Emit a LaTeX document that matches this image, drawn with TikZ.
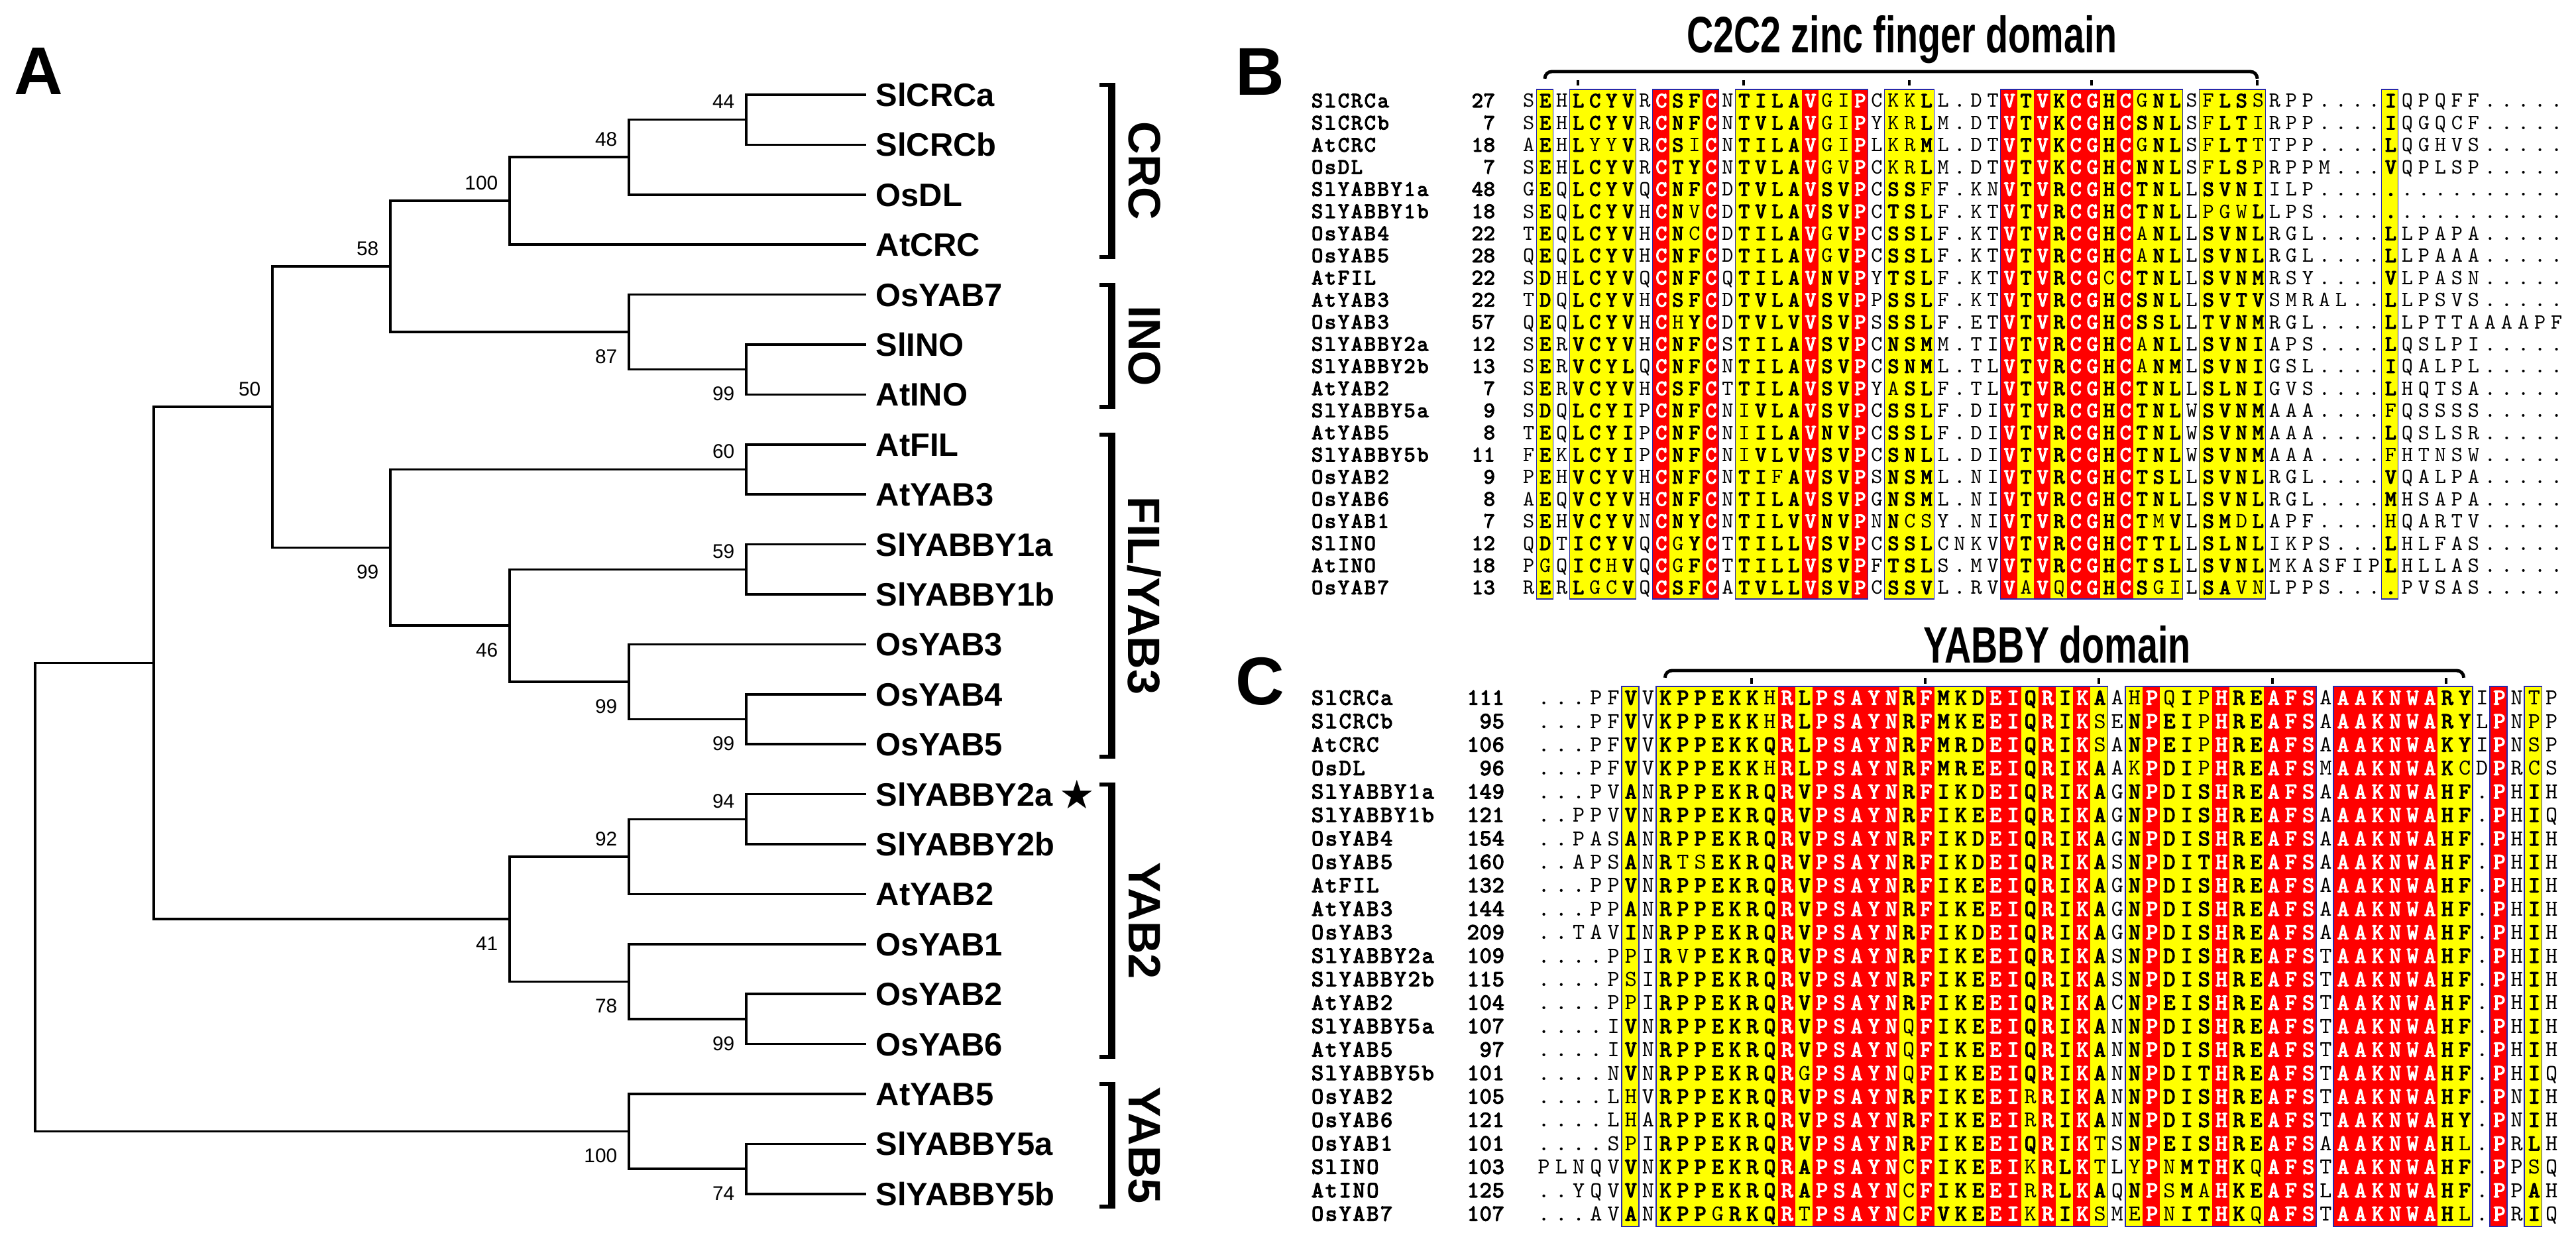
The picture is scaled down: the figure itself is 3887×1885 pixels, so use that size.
\documentclass[tikz,border=0pt]{standalone}
\usepackage{fontspec}
\usepackage{graphicx}
\newfontfamily\arialf{Liberation Sans}
\newfontfamily\dejavuf{DejaVu Sans}
\newfontfamily\seqf{lmmono10-regular.otf}[BoldFont={lmmono10-regular.otf},BoldFeatures={FakeBold=3.5}]
\definecolor{espred}{RGB}{255,0,0}
\definecolor{espyel}{RGB}{255,255,0}
\definecolor{espblue}{RGB}{40,40,170}
\makeatletter
\newcount\sqcol
\newdimen\sqpitch
\newdimen\fxpitch
\def\sqred{}\def\sqyel{}
\def\sqrow#1{\sqcol=0 \sq@loop#1\relax}
\def\sq@loop#1{\ifx#1\relax\else\advance\sqcol by 1 \sq@cell#1\expandafter\sq@loop\fi}
\def\sq@cell#1{%
  \edef\sq@tmp{\noexpand\in@{,\the\sqcol,}{\sqred}}\sq@tmp
  \ifin@
    \hbox to\sqpitch{\hss\textcolor{white}{\bfseries\uppercase{#1}}\hss}%
  \else
    \edef\sq@tmp{\noexpand\in@{,\the\sqcol,}{\sqyel}}\sq@tmp
    \ifin@
      \ifnum`#1>96 \hbox to\sqpitch{\hss\mdseries\uppercase{#1}\hss}%
      \else \hbox to\sqpitch{\hss\bfseries #1\hss}\fi
    \else
      \hbox to\sqpitch{\hss\mdseries\uppercase{#1}\hss}%
    \fi
  \fi}
\def\fixrow#1{\fx@loop#1\relax}
\def\fx@loop#1{\ifx#1\relax\else\hbox to\fxpitch{\hss#1\hss}\expandafter\fx@loop\fi}
\makeatother
\def\Bset{\def\sqred{,9,12,18,21,30,32,34,35,37,}\def\sqyel{,2,4,5,6,7,10,11,14,15,16,17,19,20,23,24,25,31,33,36,38,39,40,42,43,44,45,53,}\sqpitch=0.25cm\relax}
\def\Cset{\def\sqred{,15,17,18,19,20,21,23,27,28,30,32,36,40,43,44,45,47,48,49,50,51,52,56,}\def\sqyel{,6,8,9,10,11,12,13,14,16,22,24,25,26,29,31,33,35,37,38,39,41,42,53,54,58,}\sqpitch=0.262cm\relax}
\tikzset{
  br/.style={line width=1pt, line join=miter, line cap=rect},
  leaf/.style={font={\arialf\bfseries\fontsize{13.9}{14}\selectfont}, inner sep=0, anchor=base west},
  bs/.style={font={\arialf\fontsize{8.5}{9}\selectfont}, inner sep=0, anchor=east},
  grp/.style={font={\arialf\bfseries\fontsize{19.5}{19.5}\selectfont}, inner sep=0, rotate=-90},
  panel/.style={font={\arialf\bfseries\fontsize{29}{29}\selectfont}, inner sep=0},
  ttl/.style={font={\arialf\bfseries\fontsize{22}{22}\selectfont}, inner sep=0},
  nameB/.style={font={\seqf\bfseries\fontsize{9.4}{9.4}\selectfont}, inner sep=0, anchor=base west},
  numB/.style={font={\seqf\bfseries\fontsize{9.4}{9.4}\selectfont}, inner sep=0, anchor=base east},
  seqB/.style={font={\seqf\fontsize{9.3}{9.3}\selectfont}, inner sep=0, anchor=base west},
  nameC/.style={font={\seqf\bfseries\fontsize{9.9}{9.9}\selectfont}, inner sep=0, anchor=base west},
  numC/.style={font={\seqf\bfseries\fontsize{9.9}{9.9}\selectfont}, inner sep=0, anchor=base east},
  seqC/.style={font={\seqf\fontsize{9.8}{9.8}\selectfont}, inner sep=0, anchor=base west},
  boxline/.style={draw=espblue, line width=0.5pt},
  brk/.style={line width=1.4pt, rounded corners=3}
}
\newcommand\Brow[4]{%
  \pgfmathsetmacro\ry{152+33.4*#1}
  \node[nameB] (Bn#1) at (1977,\ry+10) {\fxpitch=0.199cm\fixrow{#2}};
  \node[numB] (Bk#1) at (2257,\ry+10) {\fxpitch=0.18cm\fixrow{#3}};
  \node[seqB] (Bs#1) at (2293.5,\ry+10) {\Bset\sqrow{#4}};
}
\newcommand\Crow[4]{%
  \pgfmathsetmacro\ry{1053+35.4*#1}
  \node[nameC] (Cn#1) at (1977,\ry+10.6) {\fxpitch=0.208cm\fixrow{#2}};
  \node[numC] (Ck#1) at (2271,\ry+10.6) {\fxpitch=0.19cm\fixrow{#3}};
  \node[seqC] (Cs#1) at (2315.9,\ry+10.6) {\Cset\sqrow{#4}};
}
\begin{document}
\begin{tikzpicture}[x=0.01cm,y=-0.01cm]
\useasboundingbox (0,0) rectangle (3887,1885);
\fill[white] (0,0) rectangle (3887,1885);

% ---------------- Panel A : tree ----------------
\node[panel] (labA) at (58,107) {A};
\foreach \i/\nm in {0/SlCRCa,1/SlCRCb,2/OsDL,3/AtCRC,4/OsYAB7,5/SlINO,6/AtINO,7/AtFIL,8/AtYAB3,9/SlYABBY1a,10/SlYABBY1b,11/OsYAB3,12/OsYAB4,13/OsYAB5,14/SlYABBY2a,15/SlYABBY2b,16/AtYAB2,17/OsYAB1,18/OsYAB2,19/OsYAB6,20/AtYAB5,21/SlYABBY5a,22/SlYABBY5b}{
  \pgfmathsetmacro\yy{143+75.4*\i}
  \coordinate (l\i) at (1305,\yy);
  \node[leaf] (t\i) at (1321,\yy+17.5) {\nm};
}
\node[font={\dejavuf\fontsize{17}{17}\selectfont}, inner sep=0, anchor=west] (star) at (1598,1199) {★};

\coordinate (n1) at (1126,180.7);
\coordinate (n2) at (949,237.25);
\coordinate (n3) at (769,303.2);
\coordinate (n4) at (1126,557.7);
\coordinate (n5) at (949,501.15);
\coordinate (n6) at (589,402.2);
\coordinate (n7) at (1126,708.5);
\coordinate (n8) at (1126,859.3);
\coordinate (n9) at (1126,1085.5);
\coordinate (n10) at (949,1028.95);
\coordinate (n11) at (769,944.1);
\coordinate (n12) at (589,826.3);
\coordinate (n13) at (411,614.25);
\coordinate (n14) at (1126,1236.3);
\coordinate (n15) at (949,1292.85);
\coordinate (n16) at (1126,1537.9);
\coordinate (n17) at (949,1481.35);
\coordinate (n18) at (769,1387.1);
\coordinate (n19) at (232,1000.7);
\coordinate (n20) at (1126,1764.1);
\coordinate (n21) at (949,1707.55);
\coordinate (n22) at (53,1354.1);

\foreach \p/\a/\b in {n1/l0/l1, n2/n1/l2, n3/n2/l3, n4/l5/l6, n5/l4/n4, n6/n3/n5,
  n7/l7/l8, n8/l9/l10, n9/l12/l13, n10/l11/n9, n11/n8/n10, n12/n7/n11, n13/n6/n12,
  n14/l14/l15, n15/n14/l16, n16/l18/l19, n17/l17/n16, n18/n15/n17, n19/n13/n18,
  n20/l21/l22, n21/l20/n20, n22/n19/n21}{
  \draw[br] (\a) -- (\p |- \a) -- (\p |- \b) -- (\b);
}

\node[bs] (b1) at (1109,153.7) {44};
\node[bs] (b2) at (932,210.25) {48};
\node[bs] (b3) at (752,276.2) {100};
\node[bs] (b4) at (1109,594.7) {99};
\node[bs] (b5) at (932,538.15) {87};
\node[bs] (b6) at (572,375.2) {58};
\node[bs] (b7) at (1109,681.5) {60};
\node[bs] (b8) at (1109,832.3) {59};
\node[bs] (b9) at (1109,1122.5) {99};
\node[bs] (b10) at (932,1065.95) {99};
\node[bs] (b11) at (752,981.1) {46};
\node[bs] (b12) at (572,863.3) {99};
\node[bs] (b13) at (394,587.25) {50};
\node[bs] (b14) at (1109,1209.3) {94};
\node[bs] (b15) at (932,1265.85) {92};
\node[bs] (b16) at (1109,1574.9) {99};
\node[bs] (b17) at (932,1518.35) {78};
\node[bs] (b18) at (752,1424.1) {41};
\node[bs] (b20) at (1109,1801.1) {74};
\node[bs] (b21) at (932,1744.55) {100};

% group brackets
\foreach \ta/\bb/\lab/\nm in {128/388/{CRC}/gCRC, 430/614/{INO}/gINO, 656/1142/{FIL/YAB3}/gFIL, 1184/1595/{YAB2}/gYABb, 1636/1821/{YAB5}/gYABc}{
  \fill (1672,\ta-3) rectangle (1683,\bb+3);
  \fill (1659,\ta-3) rectangle (1683,\ta+3);
  \fill (1659,\bb-3) rectangle (1683,\bb+3);
  \node[grp] (\nm) at (1727,{(\ta+\bb)/2}) {\lab};
}

% ---------------- Panel B ----------------
\node[panel] (labB) at (1901,108) {B};
\node[ttl] (ttlB) at (2870,60) {\scalebox{0.72}[1]{C2C2 zinc finger domain}};
\foreach \a/\b in {2/2,4/7,9/12,14/21,23/25,30/40,42/45,53/53}
  \fill[espyel] ({2306+(\a-1.5)*25},135) rectangle ({2306+(\b-0.5)*25},904);
\foreach \c in {9,12,18,21,30,32,34,35,37}
  \fill[espred] ({2306+(\c-1.5)*25},135) rectangle ({2306+(\c-0.5)*25},904);
\foreach \a/\b in {2/2,4/7,9/12,14/21,23/25,30/40,42/45,53/53}
  \draw[boxline] ({2306+(\a-1.5)*25},135) rectangle ({2306+(\b-0.5)*25},904);
\draw[brk] (2331,117) -- (2331,108) -- (3406,108) -- (3406,117);
\foreach \c in {4,14,24,35,45}
  \fill ({2306+(\c-1)*25-2},121) rectangle ({2306+(\c-1)*25+2},129);

\Brow{0}{SlCRCa}{27}{SEHLCYVRCSFCNTILAVgiPCkkLL.DTVTVKCGHCgNLSfLSsRPP....IQPQFF.....}
\Brow{1}{SlCRCb}{7}{SEHLCYVRCNFCNTVLAVgiPYkrLM.DTVTVKCGHCSNLSfLTiRPP....IQGQCF.....}
\Brow{2}{AtCRC}{18}{AEHLyyVRCSiCNTILAVgiPLkrML.DTVTVKCGHCgNLSfLTtTPP....LQGHVS.....}
\Brow{3}{OsDL}{7}{SEHLCYVRCTYCNTVLAVgvPCkrLM.DTVTVKCGHCNNLSfLSpRPPM...VQPLSP.....}
\Brow{4}{SlYABBY1a}{48}{GEQLCYVQCNFCDTVLAVSVPCSSfF.KNVTVRCGHCTNLLSVNIILP...............}
\Brow{5}{SlYABBY1b}{18}{SEQLCYVHCNvCDTVLAVSVPCTSLF.KTVTVRCGHCTNLLpgwLLPS...............}
\Brow{6}{OsYAB4}{22}{TEQLCYVHCNcCDTILAVgVPCSSLF.KTVTVRCGHCaNLLSVNLRGL....LLPAPA.....}
\Brow{7}{OsYAB5}{28}{QEQLCYVHCNFCDTILAVgVPCSSLF.KTVTVRCGHCaNLLSVNLRGL....LLPAAA.....}
\Brow{8}{AtFIL}{22}{SDHLCYVQCNFCQTILAVNVPYTSLF.KTVTVRCGcCTNLLSVNMRSY....VLPASN.....}
\Brow{9}{AtYAB3}{22}{TDQLCYVHCSFCDTVLAVSVPPSSLF.KTVTVRCGHCSNLLSVTVSMRAL..LLPSVS.....}
\Brow{10}{OsYAB3}{57}{QEQLCYVHChYCDTVLVVSVPSSSLF.ETVTVRCGHCSSLLTVNMRGL....LLPTTAAAAPF}
\Brow{11}{SlYABBY2a}{12}{SERVCYVHCNFCSTILAVSVPCNSMM.TIVTVRCGHCaNLLSVNIAPS....LQSLPI.....}
\Brow{12}{SlYABBY2b}{13}{SERVCYLQCNFCNTILAVSVPCSNML.TLVTVRCGHCaNMLSVNIGSL....IQALPL.....}
\Brow{13}{AtYAB2}{7}{SERVCYVHCSFCTTILAVSVPYaSLF.TLVTVRCGHCTNLLSLNIGVS....LHQTSA.....}
\Brow{14}{SlYABBY5a}{9}{SDQLCYIPCNFCNiVLAVSVPCSSLF.DIVTVRCGHCTNLWSVNMAAA....fQSSSS.....}
\Brow{15}{AtYAB5}{8}{TEQLCYIPCNFCNiILAVNVPCSSLF.DIVTVRCGHCTNLWSVNMAAA....LQSLSR.....}
\Brow{16}{SlYABBY5b}{11}{FEKLCYIPCNFCNiVLVVSVPCSNLL.DIVTVRCGHCTNLWSVNMAAA....fHTNSW.....}
\Brow{17}{OsYAB2}{9}{PEHVCYVHCNFCNTIfAVSVPSNSML.NIVTVRCGHCTSLLSVNLRGL....VQALPA.....}
\Brow{18}{OsYAB6}{8}{AEQVCYVHCNFCNTILAVSVPGNSML.NIVTVRCGHCTNLLSVNLRGL....MHSAPA.....}
\Brow{19}{OsYAB1}{7}{SEHVCYVNCNYCNTILVVNVPNNcsY.NIVTVRCGHCTmVLSMdLAPF....hQARTV.....}
\Brow{20}{SlINO}{12}{QDTICYVQCgYCTTILLVSVPCSSLCNKVVTVRCGHCTTLLSLNLIKPS...LHLFAS.....}
\Brow{21}{AtINO}{18}{PgQIChVQCgFCTTILLVSVPFTSLS.MVVTVRCGHCTSLLSVNLMKASFIPLHLLAS.....}
\Brow{22}{OsYAB7}{13}{RERLgcVQCSFCATVLLVSVPCSSVL.RVVaVqCGHCSgiLSAvnLPPS....PVSAS.....}

% ---------------- Panel C ----------------
\node[panel] (labC) at (1901,1028) {C};
\node[ttl] (ttlC) at (3104,973) {\scalebox{0.72}[1]{YABBY domain}};
\foreach \a/\b in {6/6,8/33,35/45,47/54,56/56,58/58}
  \fill[espyel] ({2329+(\a-1.5)*26.2},1036) rectangle ({2329+(\b-0.5)*26.2},1851);
\foreach \c in {15,17,18,19,20,21,23,27,28,30,32,36,40,43,44,45,47,48,49,50,51,52,56}
  \fill[espred] ({2329+(\c-1.5)*26.2},1036) rectangle ({2329+(\c-0.5)*26.2},1851);
\foreach \a/\b in {6/6,8/33,35/45,47/54,56/56,58/58}
  \draw[boxline] ({2329+(\a-1.5)*26.2},1036) rectangle ({2329+(\b-0.5)*26.2},1851);
\draw[brk] (2512.4,1022) -- (2512.4,1012) -- (3717.6,1012) -- (3717.6,1022);
\foreach \c in {13,23,33,43,53}
  \fill ({2329+(\c-1)*26.2-2},1023) rectangle ({2329+(\c-1)*26.2+2},1032);

\Crow{0}{SlCRCa}{111}{...PFVVKPPEKKhRLPSAYNRFMKDEIQRIKAAhPqIpHREAFSAAAKNWARYIPNtP}
\Crow{1}{SlCRCb}{95}{...PFVVKPPEKKhRLPSAYNRFMKEEIQRIKsENPEIpHREAFSAAAKNWARYLPNpP}
\Crow{2}{AtCRC}{106}{...PFVVKPPEKKQRLPSAYNRFMRDEIQRIKsANPEIpHREAFSAAAKNWAKYIPNsP}
\Crow{3}{OsDL}{96}{...PFVVKPPEKKhRLPSAYNRFMREEIQRIKAAkPDIpHREAFSMAAKNWAKcDPRcS}
\Crow{4}{SlYABBY1a}{149}{...PVANRPPEKRQRVPSAYNRFIKDEIQRIKAGNPDISHREAFSAAAKNWAHF.PHIH}
\Crow{5}{SlYABBY1b}{121}{..PPVVNRPPEKRQRVPSAYNRFIKEEIQRIKAGNPDISHREAFSAAAKNWAHF.PHIQ}
\Crow{6}{OsYAB4}{154}{..PASANRPPEKRQRVPSAYNRFIKDEIQRIKAGNPDISHREAFSAAAKNWAHF.PHIH}
\Crow{7}{OsYAB5}{160}{..APSANRtsEKRQRVPSAYNRFIKDEIQRIKASNPDITHREAFSAAAKNWAHF.PHIH}
\Crow{8}{AtFIL}{132}{...PPVNRPPEKRQRVPSAYNRFIKEEIQRIKAGNPDISHREAFSAAAKNWAHF.PHIH}
\Crow{9}{AtYAB3}{144}{...PPANRPPEKRQRVPSAYNRFIKEEIQRIKAGNPDISHREAFSAAAKNWAHF.PHIH}
\Crow{10}{OsYAB3}{209}{..TAVINRPPEKRQRVPSAYNRFIKDEIQRIKAGNPDISHREAFSAAAKNWAHF.PHIH}
\Crow{11}{SlYABBY2a}{109}{....PpIRvPEKRQRVPSAYNRFIKEEIQRIKASNPDISHREAFSTAAKNWAHF.PHIH}
\Crow{12}{SlYABBY2b}{115}{....PsIRPPEKRQRVPSAYNRFIKEEIQRIKASNPDISHREAFSTAAKNWAHF.PHIH}
\Crow{13}{AtYAB2}{104}{....PpIRPPEKRQRVPSAYNRFIKEEIQRIKACNPEISHREAFSTAAKNWAHF.PHIH}
\Crow{14}{SlYABBY5a}{107}{....IVNRPPEKRQRVPSAYNqFIKEEIQRIKANNPDISHREAFSTAAKNWAHF.PHIH}
\Crow{15}{AtYAB5}{97}{....IVNRPPEKRQRVPSAYNqFIKEEIQRIKANNPDISHREAFSTAAKNWAHF.PHIH}
\Crow{16}{SlYABBY5b}{101}{....NVNRPPEKRQRgPSAYNqFIKEEIQRIKANNPDITHREAFSTAAKNWAHF.PHIQ}
\Crow{17}{OsYAB2}{105}{....LhVRPPEKRQRVPSAYNRFIKEEIrRIKANNPDISHREAFSTAAKNWAHF.PNIH}
\Crow{18}{OsYAB6}{121}{....LhARPPEKRQRVPSAYNRFIKEEIrRIKANNPDISHREAFSTAAKNWAHY.PNIH}
\Crow{19}{OsYAB1}{101}{....SpIRPPEKRQRVPSAYNRFIKEEIQRIKtSNPEISHREAFSAAAKNWAHl.PRLH}
\Crow{20}{SlINO}{103}{PLNQVVNKPPEKRQRAPSAYNcFIKEEIkRLKtLyPnMTHKqAFSTAAKNWAHF.PPsQ}
\Crow{21}{AtINO}{125}{..YQVVNKPPEKRQRAPSAYNcFIKEEIrRLKAQNPsMaHKEAFSLAAKNWAHF.PPAH}
\Crow{22}{OsYAB7}{107}{...AVANKPPgRKQRtPSAYNcFVKEEIkRIKsMePnITHKqAFSTAAKNWAHl.PRIQ}
\end{tikzpicture}
\end{document}
